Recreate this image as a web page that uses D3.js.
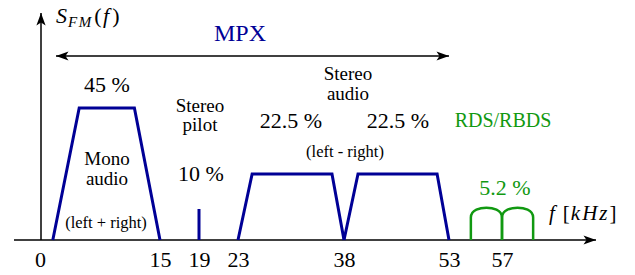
<!DOCTYPE html>
<html><head><meta charset="utf-8">
<script src="https://cdn.jsdelivr.net/npm/d3@7"></script>
<style>body{margin:0;background:#fff}svg{display:block}</style>
</head><body>
<svg id="c" width="635" height="275"></svg>
<script>
// ---- data ----
const tickValues = [0, 15, 19, 23, 38, 53, 57];
const tickLabels = ["0", "15", "19", "23", "38", "53", "57"];
// spectral shapes: [kHz, relative level]
const monoBand   = [[1.6, 0], [4.9, 1], [11.8, 1], [15, 0]];
const pilotTone  = [[19, 0], [19, 0.235]];
const lsbBand    = [[23, 0], [25, 0.5], [36.3, 0.5], [38, 0]];
const usbBand    = [[38, 0], [40, 0.5], [51.3, 0.5], [53, 0]];
const rdsLobes   = [[54.65, 57], [57, 59.35]]; // [start, end] kHz
const rdsShoulder = 0.17, rdsPeak = 0.245;
const shareLabels = { mono: "45 %", pilot: "10 %", lsb: "22.5 %", usb: "22.5 %", rds: "5.2 %" };

const FONT = "'Liberation Serif', 'Times New Roman', 'DejaVu Serif', serif";
const blue = "#000096", green = "#119911";
const svg = d3.select("#c").attr("font-family", FONT);

// schematic (piecewise-linear) frequency axis
const x = d3.scaleLinear()
  .domain([0, 15, 19, 23, 38, 53, 57, 61])
  .range([40, 160, 199, 238, 344, 449, 502, 555]);
const y = d3.scaleLinear().domain([0, 1]).range([240, 108]);

// arrow marker
const defs = svg.append("defs");
defs.append("marker").attr("id", "ah").attr("viewBox", "-13 -6 14 12")
  .attr("refX", 0).attr("refY", 0).attr("markerWidth", 14).attr("markerHeight", 12)
  .attr("markerUnits", "userSpaceOnUse").attr("orient", "auto-start-reverse")
  .append("path").attr("d", "M0,0 L-12.5,-4.6 L-9.5,0 L-12.5,4.6 Z").attr("fill", "#000");

// axes lines
svg.append("line").attr("x1", 14).attr("x2", 596).attr("y1", y(0)).attr("y2", y(0))
  .attr("stroke", "#000").attr("stroke-width", 1.5).attr("marker-end", "url(#ah)");
svg.append("line").attr("x1", x(0) + 1).attr("x2", x(0) + 1).attr("y1", y(0)).attr("y2", 13)
  .attr("stroke", "#000").attr("stroke-width", 1.5).attr("marker-end", "url(#ah)");

// tick labels through axis
const ax = svg.append("g").attr("transform", `translate(0,${y(0)})`)
  .call(d3.axisBottom(x).tickValues(tickValues).tickSize(0).tickPadding(11)
    .tickFormat((d, i) => tickLabels[i]));
ax.attr("font-family", FONT).attr("font-size", 22);
ax.select(".domain").remove();
ax.selectAll("text").attr("font-family", FONT).attr("font-size", 22).attr("fill", "#000");

// spectral bands
const line = d3.line().x(d => x(d[0])).y(d => y(d[1]));
[monoBand, pilotTone, lsbBand, usbBand].forEach(b => {
  svg.append("path").attr("d", line(b)).attr("fill", "none").attr("stroke", blue)
    .attr("stroke-width", 3).attr("stroke-linejoin", "miter");
});

// RDS lobes
rdsLobes.forEach(([a, b]) => {
  const p = d3.path();
  const x0 = x(a), x1 = x(b), xc = (x0 + x1) / 2;
  const yb = y(0), ys = y(rdsShoulder), yt = y(rdsPeak);
  p.moveTo(x0, yb); p.lineTo(x0, ys);
  p.bezierCurveTo(x0, yt + 2, xc - 6, yt, xc, yt);
  p.bezierCurveTo(xc + 6, yt, x1, yt + 2, x1, ys);
  p.lineTo(x1, yb);
  svg.append("path").attr("d", p.toString()).attr("fill", "none").attr("stroke", green).attr("stroke-width", 2.5);
});

// MPX arrow
svg.append("line").attr("x1", 56).attr("x2", x(53)).attr("y1", 56).attr("y2", 56)
  .attr("stroke", "#000").attr("stroke-width", 1.4)
  .attr("marker-start", "url(#ah)").attr("marker-end", "url(#ah)");

function txt(t, px, py, size, opts = {}) {
  return svg.append("text").attr("x", px).attr("y", py).attr("font-size", size)
    .attr("font-family", FONT)
    .attr("text-anchor", opts.anchor || "middle").attr("fill", opts.fill || "#000")
    .attr("font-style", opts.italic ? "italic" : null).text(t);
}

txt("MPX", 240, 41, 24, { fill: blue });
txt(shareLabels.mono, 107, 92, 22);
txt("Mono", 107, 165, 19);
txt("audio", 107, 185, 19);
txt("(left + right)", 106, 228, 16.5);
txt("Stereo", 200, 112, 19);
txt("pilot", 200, 131, 19);
txt(shareLabels.pilot, 201, 181, 22);
txt(shareLabels.lsb, 291, 128, 22);
txt(shareLabels.usb, 398, 128, 22);
txt("Stereo", 348, 80, 19);
txt("audio", 348, 100, 19);
txt("(left - right)", 345, 157, 16.5);
txt("RDS/RBDS", 503, 127, 20, { fill: green });
txt(shareLabels.rds, 505, 195, 22, { fill: green });

// S_FM(f)
const s = svg.append("text").attr("x", 56).attr("y", 23).attr("font-size", 22).attr("font-family", FONT).attr("fill", "#000");
s.append("tspan").attr("font-style", "italic").text("S");
s.append("tspan").attr("font-style", "italic").attr("font-size", 15).attr("letter-spacing", 1.5).attr("dy", 4).attr("dx", 1).text("FM");
s.append("tspan").attr("dy", -4).attr("dx", 1.5).text("(");
s.append("tspan").attr("font-style", "italic").attr("dx", 1.5).text("f");
s.append("tspan").attr("dx", 3).text(")");

// f [kHz]
const f = svg.append("text").attr("x", 549).attr("y", 220).attr("font-size", 21).attr("font-family", FONT).attr("fill", "#000");
f.append("tspan").attr("font-style", "italic").text("f");
f.append("tspan").attr("dx", 8).text("[");
f.append("tspan").attr("font-style", "italic").attr("letter-spacing", 2).attr("dx", 1).text("kHz");
f.append("tspan").attr("dx", 0).text("]");
</script>
</body></html>
